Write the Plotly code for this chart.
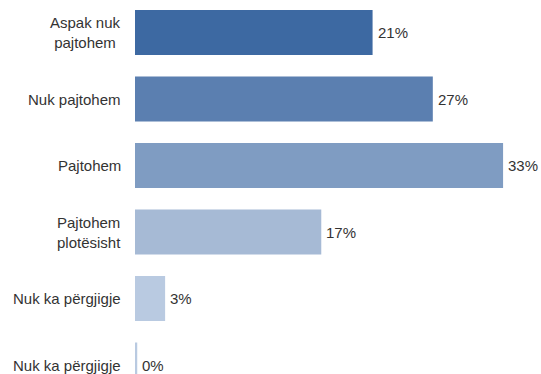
import plotly.graph_objects as go

categories = ["Aspak nuk<br>pajtohem", "Nuk pajtohem", "Pajtohem",
              "Pajtohem<br>plotësisht", "Nuk ka përgjigje", "Nuk ka përgjigje"]
values = [21.3, 26.7, 33.0, 16.7, 2.7, 0.2]
labels = ["21%", "27%", "33%", "17%", "3%", "0%"]
colors = ["#3d69a2", "#5b7fb0", "#7f9cc2", "#a6bad5", "#b9cae1", "#b9cae1"]

pos = list(range(len(categories)))
LABEL_FONT = dict(family="Liberation Sans, Arial, sans-serif", size=15, color="#333333")
VALUE_FONT = dict(family="Liberation Sans, Arial, sans-serif", size=15, color="#333333")

fig = go.Figure()
fig.add_trace(go.Bar(
    x=values, y=pos, orientation="h",
    marker=dict(color=colors, line=dict(width=0)),
    hoverinfo="skip",
))

for p, c in zip(pos, categories):
    fig.add_annotation(
        x=0, xref="paper", y=p, yref="y", text=c, showarrow=False,
        xanchor="right", yanchor="middle", align="center", xshift=-12,
        font=LABEL_FONT,
    )

for p, v, t in zip(pos, values, labels):
    fig.add_annotation(
        x=v, xref="x", y=p, yref="y", text=t, showarrow=False,
        xanchor="left", yanchor="middle", xshift=3, font=VALUE_FONT,
    )

fig.update_layout(
    width=541, height=374,
    margin=dict(l=135, r=0, t=0, b=0),
    paper_bgcolor="white", plot_bgcolor="white",
    bargap=0.323, showlegend=False,
    xaxis=dict(range=[0, 36.4], visible=False),
    yaxis=dict(range=[5.135, -0.489], visible=False),
)

fig.write_html(
    "out.html",
    config={"displayModeBar": False},
    post_script="document.body.style.margin='0';document.body.style.overflow='hidden';",
)
